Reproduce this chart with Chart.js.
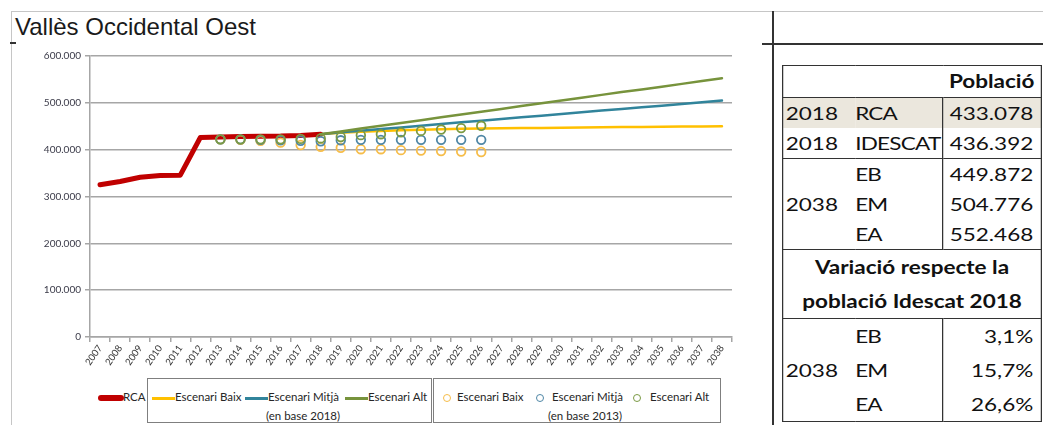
<!DOCTYPE html>
<html>
<head>
<meta charset="utf-8">
<script src="https://cdn.jsdelivr.net/npm/chart.js"></script>
<style>
  body { margin: 0; width: 1043px; height: 425px; background: #fff; position: relative; overflow: hidden; font-family: Lato, "Noto Sans", sans-serif; }
  .abs { position: absolute; }
  #title { left: 15px; top: 13px; font-family: "Liberation Sans", Arial, sans-serif; font-size: 24px; color: #1a1a1a; white-space: nowrap; }
  #chartBox { left: 12px; top: 46px; width: 740px; height: 329px; }
  .lgbox { border: 1px solid #7f7f7f; height: 43px; top: 378px; }
  .lgtext { font-size: 11.5px; color: #262626; white-space: nowrap; }
  .lgline { height: 3px; width: 23px; }
  .lgdot { width: 6px; height: 6px; border-radius: 50%; border: 1.6px solid; }
  #tableWrap { left: 782px; top: 65px; transform: scaleX(1.25); transform-origin: 0 0; }
  table { border-collapse: collapse; table-layout: fixed; width: 207px; font-size: 18px; color: #111; border: 1.5px solid #333; }
  td { padding: 0; height: 30px; line-height: 30px; white-space: nowrap; overflow: visible; }
  td.y { padding-left: 2px; }
  td.l { letter-spacing: -0.6px; }
  td.v { text-align: right; padding-right: 6px; border-left: 1.5px solid #333; }
  tr.head td { height: 31px; line-height: 31px; }
  tr.sep td { border-top: 1.5px solid #333; }
  tr.shade td { background: #ebe7dd; }
  tr.tall td { height: 34px; line-height: 34px; }
  .b { font-weight: bold; }
</style>
</head>
<body>
<div class="abs" style="left:11px;top:11px;width:1032px;height:1px;background:#c6c6c6"></div>
<div class="abs" style="left:11px;top:11px;width:1px;height:414px;background:#c6c6c6"></div>
<div class="abs" style="left:772px;top:11px;width:1.5px;height:414px;background:#333"></div>
<div class="abs" style="left:762px;top:43px;width:281px;height:1.5px;background:#333"></div>
<div class="abs" style="left:10px;top:42px;width:6px;height:1.5px;background:#333"></div>

<div id="title" class="abs">Vallès Occidental Oest</div>
<div id="chartBox" class="abs"><canvas id="chart"></canvas></div>

<!-- legend -->
<div class="abs" style="left:98px;top:395px;width:26px;height:6px;border-radius:3px;background:#c00000"></div>
<div class="abs lgtext" style="left:123px;top:390px">RCA</div>

<div class="abs lgbox" style="left:147px;width:283px"></div>
<div class="abs lgline" style="left:152px;top:397px;background:#ffc000"></div>
<div class="abs lgtext" style="left:175px;top:390px">Escenari Baix</div>
<div class="abs lgline" style="left:245px;top:397px;background:#31849b"></div>
<div class="abs lgtext" style="left:268px;top:390px">Escenari Mitjà</div>
<div class="abs lgline" style="left:345px;top:397px;background:#77933c"></div>
<div class="abs lgtext" style="left:368px;top:390px">Escenari Alt</div>
<div class="abs lgtext" style="left:266px;top:409px">(en base 2018)</div>

<div class="abs lgbox" style="left:433px;width:286px"></div>
<div class="abs lgdot" style="left:443px;top:394px;border-color:#f6bd4a"></div>
<div class="abs lgtext" style="left:457px;top:390px">Escenari Baix</div>
<div class="abs lgdot" style="left:536px;top:394px;border-color:#4f87a6"></div>
<div class="abs lgtext" style="left:552px;top:390px">Escenari Mitjà</div>
<div class="abs lgdot" style="left:633px;top:394px;border-color:#7b9a44"></div>
<div class="abs lgtext" style="left:650px;top:390px">Escenari Alt</div>
<div class="abs lgtext" style="left:548px;top:409px">(en base 2013)</div>

<!-- table -->
<div id="tableWrap" class="abs">
<table>
  <colgroup><col style="width:58px"><col style="width:70px"><col style="width:79px"></colgroup>
  <tr class="head"><td class="y"></td><td class="l"></td><td class="b" style="text-align:center">Població</td></tr>
  <tr class="sep shade"><td class="y">2018</td><td class="l">RCA</td><td class="v">433.078</td></tr>
  <tr><td class="y">2018</td><td class="l">IDESCAT</td><td class="v">436.392</td></tr>
  <tr class="sep"><td class="y" rowspan="3">2038</td><td class="l">EB</td><td class="v">449.872</td></tr>
  <tr><td class="l">EM</td><td class="v">504.776</td></tr>
  <tr><td class="l">EA</td><td class="v">552.468</td></tr>
  <tr class="sep tall"><td colspan="3" class="b" style="text-align:center">Variació respecte la</td></tr>
  <tr class="tall"><td colspan="3" class="b" style="text-align:center">població Idescat 2018</td></tr>
  <tr class="sep tall"><td class="y" rowspan="3">2038</td><td class="l">EB</td><td class="v">3,1%</td></tr>
  <tr class="tall"><td class="l">EM</td><td class="v">15,7%</td></tr>
  <tr class="tall"><td class="l">EA</td><td class="v">26,6%</td></tr>
</table>
</div>

<script>
const years = ["2007","2008","2009","2010","2011","2012","2013","2014","2015","2016","2017","2018",
  "2019","2020","2021","2022","2023","2024","2025","2026","2027","2028","2029","2030",
  "2031","2032","2033","2034","2035","2036","2037","2038"];

// padró RCA 2007-2018
const rca = [325000, 332000, 341000, 345000, 345500, 426000, 427000, 428000, 428500, 429000, 430500, 433078];

// projeccions en base 2018 (2018-2038)
const baix2018 = [433078, 436000, 438000, 440000, 441500, 442500, 443500, 444500, 445000, 445500, 446000,
  446500, 447000, 447500, 448000, 448300, 448600, 449000, 449300, 449600, 449872];
const mitja2018 = [433078, 437000, 440500, 444000, 447500, 451000, 455000, 458500, 462000, 465500, 469000,
  472500, 476000, 480000, 483500, 487000, 490500, 494000, 497500, 501000, 504776];
const alt2018 = [433078, 439000, 445000, 451000, 457000, 463000, 469000, 475000, 481000, 487000, 493000,
  499000, 505000, 511000, 517000, 523000, 528500, 534500, 540500, 546500, 552468];

// projeccions en base 2013 (2013-2026)
const baix2013 = [422000, 421000, 419000, 415000, 410000, 406000, 404000, 401000, 401000, 399000, 398000, 397000, 396000, 395000];
const mitja2013 = [422000, 422000, 421000, 420000, 419000, 418000, 420000, 421000, 421000, 421000, 421000, 421000, 421000, 421000];
const alt2013 = [422000, 422000, 422000, 422000, 423000, 424000, 427000, 431000, 433000, 437000, 440000, 443000, 446000, 451000];

function place(values, startYear) {
  const out = years.map(() => null);
  const i0 = years.indexOf(startYear);
  values.forEach((v, i) => { out[i0 + i] = v; });
  return out;
}

function lineSet(label, values, start, color, width, order) {
  return { label, data: place(values, start), borderColor: color, borderWidth: width,
    pointRadius: 0, fill: false, tension: 0, order, borderCapStyle: 'round', borderJoinStyle: 'round' };
}
function dotSet(label, values, color, order) {
  return { label, data: place(values, "2013"), showLine: false, borderColor: color,
    backgroundColor: 'rgba(0,0,0,0)', pointRadius: 4.3, pointBorderWidth: 1.8, order };
}

const fmt = v => String(v).replace(/\B(?=(\d{3})+(?!\d))/g, '.');

new Chart(document.getElementById('chart'), {
  type: 'line',
  data: {
    labels: years,
    datasets: [
      lineSet('RCA', rca, "2007", '#c00000', 5, 7),
      lineSet('Escenari Baix', baix2018, "2018", '#ffc000', 2.5, 6),
      lineSet('Escenari Mitjà', mitja2018, "2018", '#31849b', 2.5, 5),
      lineSet('Escenari Alt', alt2018, "2018", '#77933c', 2.5, 4),
      dotSet('Escenari Baix (2013)', baix2013, '#f6bd4a', 3),
      dotSet('Escenari Mitjà (2013)', mitja2013, '#4f87a6', 2),
      dotSet('Escenari Alt (2013)', alt2013, '#7b9a44', 1)
    ]
  },
  options: {
    responsive: true,
    maintainAspectRatio: false,
    animation: false,
    layout: { padding: { top: 10, right: 20, left: 0, bottom: 0 } },
    plugins: { legend: { display: false }, tooltip: { enabled: false } },
    scales: {
      x: {
        offset: true,
        grid: { offset: true, drawOnChartArea: false, drawTicks: true, tickLength: 5, color: '#a6a6a6', lineWidth: 1.5 },
        border: { color: '#a6a6a6', width: 1.5 },
        ticks: { autoSkip: false, minRotation: 55, maxRotation: 55, padding: 1, color: '#333',
          font: { family: 'Lato', size: 9.5 } },
        afterFit: s => { s.height = 38; }
      },
      y: {
        min: 0, max: 600000,
        grid: { color: '#a6a6a6', lineWidth: 1.5, tickLength: 5 },
        border: { color: '#a6a6a6', width: 1.5 },
        ticks: { stepSize: 100000, callback: v => fmt(v), color: '#3a3a48', padding: 4,
          font: { family: 'Lato', size: 10 } },
        afterFit: s => { s.width = 78; }
      }
    }
  }
});
</script>
</body>
</html>
